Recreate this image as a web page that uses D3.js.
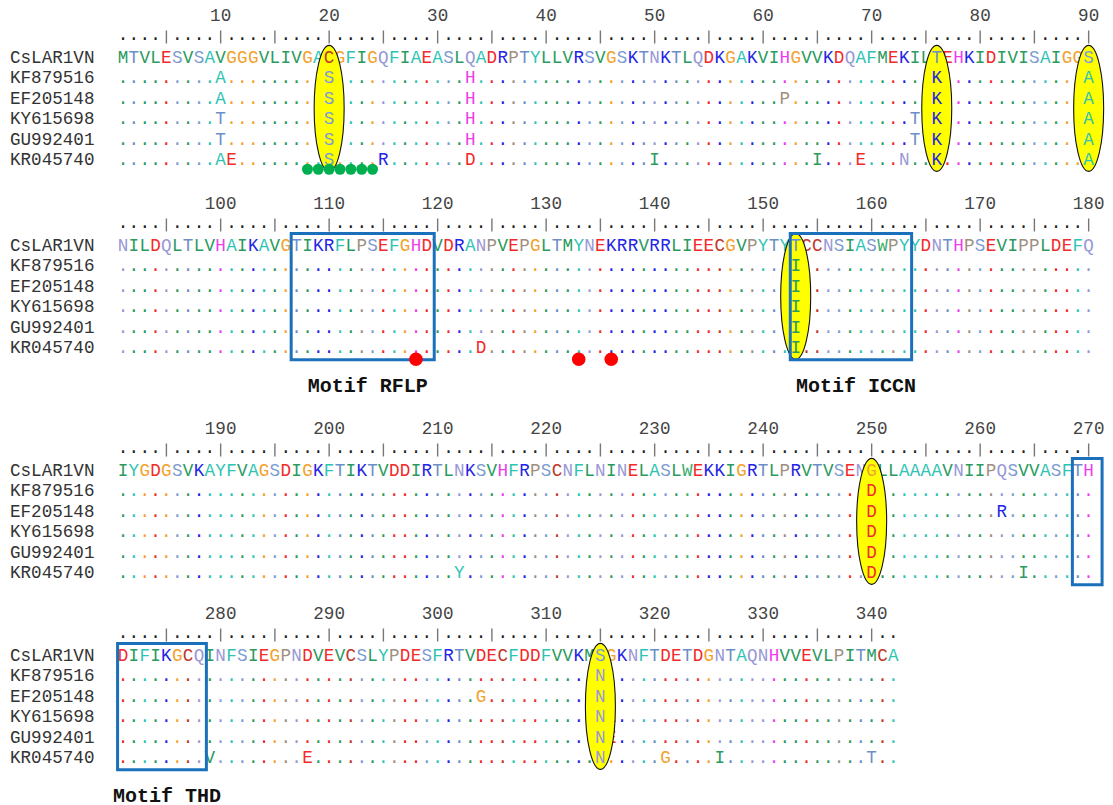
<!DOCTYPE html>
<html>
<head>
<meta charset="utf-8">
<script src="https://cdn.jsdelivr.net/npm/d3@7"></script>
<style>
  body { margin: 0; background: #fff; }
  svg { display: block; }
  text { font-family: "Liberation Mono", "Courier New", monospace; }
</style>
</head>
<body>
<svg id="chart" width="1113" height="805"></svg>
<script>
// ---------------- DATA ----------------
const seqNames = ["CsLAR1VN", "KF879516", "EF205148", "KY615698", "GU992401", "KR045740"];

// reference sequence (CsLAR1VN), one string per 90-residue block
const refBlocks = [
  "MTVLESVSAVGGGVLIVGACGFIGQFIAEASLQADRPTYLLVRSVGSKTNKTLQDKGAKVIHGVVKDQAFMEKILTEHKIDIVISAIGGS",
  "NILDQLTLVHAIKAVGTIKRFLPSEFGHDVDRANPVEPGLTMYNEKRRVRRLIEECGVPYTYTCCNSIASWPYYDNTHPSEVIPPLDEFQ",
  "IYGDGSVKAYFVAGSDIGKFTIKTVDDIRTLNKSVHFRPSCNFLNINELASLWEKKIGRTLPRVTVSENGLLAAAAVNIIPQSVVASFTH",
  "DIFIKGCQINFSIEGPNDVEVCSLYPDESFRTVDECFDDFVVKMSGKNFTDETDGNTAQNHVVEVLPITMCA"
];

// substitutions relative to CsLAR1VN: [position, residue]
const varKF879516 = [[10,"A"],[20,"S"],[33,"H"],[76,"K"],[90,"A"],[153,"I"],[250,"D"],[315,"N"]];
const varEF205148 = [[10,"A"],[20,"S"],[33,"H"],[62,"P"],[76,"K"],[90,"A"],[153,"I"],[250,"D"],[262,"R"],[304,"G"],[315,"N"]];
const varKY615698 = [[10,"T"],[20,"S"],[33,"H"],[74,"T"],[76,"K"],[90,"A"],[153,"I"],[250,"D"],[315,"N"],[316,"E"]];
const varGU992401 = [[10,"T"],[20,"S"],[33,"H"],[74,"T"],[76,"K"],[90,"A"],[153,"I"],[250,"D"],[315,"N"],[316,"E"]];
const varKR045740 = [[10,"A"],[11,"E"],[20,"S"],[25,"R"],[33,"D"],[50,"I"],[65,"I"],[69,"E"],[73,"N"],[76,"K"],[90,"A"],
                     [124,"D"],[153,"I"],[212,"Y"],[250,"D"],[264,"I"],[279,"V"],[288,"E"],[315,"N"],[321,"G"],[326,"I"],[340,"T"]];

// highlighted (ellipse) columns
const highlightPositions = [20, 76, 90, 153, 250, 315];

// motif boxes
const motifNames  = ["Motif RFLP", "Motif ICCN", "Motif THD"];
const motifStarts = [107, 153, 269];
const motifEnds   = [119, 163, 278];

// circle markers under KR045740
const greenMarkPositions = [18, 19, 20, 21, 22, 23, 24];
const redMarkPositions   = [118, 133, 136];

// residue colours
const aaColor = {
  A: "#2ec4b4", F: "#2ec4b4", Y: "#2ec4b4",
  W: "#3cae6e",
  I: "#2a9a5e", L: "#2a9a5e", M: "#2a9a5e", V: "#2a9a5e",
  C: "#c0392b",
  D: "#f22a2a", E: "#f22a2a",
  G: "#f2a22e",
  H: "#ee3cee",
  K: "#2424e6", R: "#2424e6",
  N: "#9898d6", Q: "#9898d6",
  P: "#a08f80",
  S: "#7c9cd2", T: "#6d8ec6"
};

// ---------------- LAYOUT ----------------
const W = 1113, H = 805;
const blockLen = 90;
const colW = 10.85;
const blockTop = [57, 245, 470, 655];   // centre of the first sequence row per block
const rowStep = 20.55;

const seq = refBlocks.join("");
const seqLen = seq.length;

const xCol = d3.scaleLinear().domain([1, blockLen]).range([123, 123 + (blockLen - 1) * colW]);
const yStep = d3.scaleLinear().domain([0, 1]).range([0, rowStep]);
const yRow = (b, r) => blockTop[b] + yStep(r);

const svg = d3.select("#chart");
svg.append("rect").attr("width", W).attr("height", H).attr("fill", "#fff");

const variantLists = [[], varKF879516, varEF205148, varKY615698, varGU992401, varKR045740];
const varMaps = variantLists.map(l => new Map(l));
const hlSet = new Set(highlightPositions);
const posToBC = p => ({ b: Math.floor((p - 1) / blockLen), c: (p - 1) % blockLen + 1 });

const nBlocks = Math.ceil(seqLen / blockLen);
const blocks = d3.range(nBlocks);

// names
const nameData = [];
blocks.forEach(b => seqNames.forEach((n, r) => nameData.push({ b, r, n })));
svg.append("g").selectAll("text").data(nameData).join("text")
  .attr("x", 10).attr("y", d => yRow(d.b, d.r) + 5.5)
  .attr("font-size", 17.6).attr("fill", "#333")
  .text(d => d.n);

// ruler
const rulerData = [];
for (let p = 1; p <= seqLen; p++) rulerData.push(Object.assign({ p }, posToBC(p)));
const rulerG = svg.append("g");
rulerG.selectAll("text.dot").data(rulerData.filter(d => d.p % 5 !== 0)).join("text")
  .attr("class", "dot")
  .attr("x", d => xCol(d.c)).attr("y", d => yRow(d.b, 0) - 17.5)
  .attr("text-anchor", "middle").attr("font-size", 17.6).attr("fill", "#222")
  .text(".");
rulerG.selectAll("line").data(rulerData.filter(d => d.p % 5 === 0)).join("line")
  .attr("x1", d => xCol(d.c)).attr("x2", d => xCol(d.c))
  .attr("y1", d => yRow(d.b, 0) - 26.5).attr("y2", d => yRow(d.b, 0) - 13.5)
  .attr("stroke", "#777").attr("stroke-width", 1.4);
rulerG.selectAll("text.num").data(rulerData.filter(d => d.p % 10 === 0)).join("text")
  .attr("class", "num")
  .attr("x", d => xCol(d.c)).attr("y", d => yRow(d.b, 0) - 36)
  .attr("text-anchor", "middle").attr("font-size", 17.6).attr("fill", "#444")
  .text(d => d.p);

// residue cells
const cells = [];
for (let p = 1; p <= seqLen; p++) {
  const { b, c } = posToBC(p);
  const ref = seq[p - 1];
  seqNames.forEach((n, r) => {
    let ch, color;
    if (r === 0) { ch = ref; color = aaColor[ref]; }
    else if (varMaps[r].has(p)) { ch = varMaps[r].get(p); color = aaColor[ch]; }
    else { ch = "."; color = aaColor[ref]; }
    cells.push({ p, b, c, r, ch, color });
  });
}
function drawCells(g, data) {
  g.selectAll("text").data(data).join("text")
    .attr("x", d => xCol(d.c)).attr("y", d => yRow(d.b, d.r) + 5.5)
    .attr("text-anchor", "middle").attr("font-size", 17.6)
    .attr("fill", d => d.color)
    .text(d => d.ch);
}
drawCells(svg.append("g"), cells);

// ellipses
const ellData = highlightPositions.map(p => Object.assign({ p }, posToBC(p)));
svg.append("g").selectAll("ellipse").data(ellData).join("ellipse")
  .attr("cx", d => xCol(d.c))
  .attr("cy", d => (yRow(d.b, 0) + yRow(d.b, seqNames.length - 1)) / 2)
  .attr("rx", 15).attr("ry", 63)
  .attr("fill", "#ffff00").attr("stroke", "#111").attr("stroke-width", 1.1);
drawCells(svg.append("g"), cells.filter(d => hlSet.has(d.p)));

// motif boxes
const boxSegs = [];
const labelData = [];
motifNames.forEach((name, i) => {
  const s = motifStarts[i], e = motifEnds[i];
  const bs = posToBC(s).b, be = posToBC(e).b;
  for (let b = bs; b <= be; b++) {
    const c0 = b === bs ? posToBC(s).c : 1;
    const c1 = b === be ? posToBC(e).c : blockLen;
    const seg = {
      b,
      x0: xCol(c0) - colW / 2,
      x1: xCol(c1) + colW / 2 + (b === be ? 2 : 8),
      y0: yRow(b, 0) - 11.5,
      y1: yRow(b, seqNames.length - 1) + 12
    };
    boxSegs.push(seg);
    if (b === be) labelData.push({ name, x: (seg.x0 + seg.x1) / 2 + 5, y: yRow(b, seqNames.length - 1) + 44 });
  }
});
svg.append("g").selectAll("rect").data(boxSegs).join("rect")
  .attr("x", d => d.x0).attr("y", d => d.y0)
  .attr("width", d => d.x1 - d.x0).attr("height", d => d.y1 - d.y0)
  .attr("fill", "none").attr("stroke", "#1b70bb").attr("stroke-width", 3);
svg.append("g").selectAll("text").data(labelData).join("text")
  .attr("x", d => d.x).attr("y", d => d.y)
  .attr("text-anchor", "middle").attr("font-size", 20).attr("font-weight", "bold").attr("fill", "#111")
  .text(d => d.name);

// markers
const last = seqNames.length - 1;
svg.append("g").selectAll("circle").data(greenMarkPositions.map(p => posToBC(p))).join("circle")
  .attr("cx", d => xCol(d.c)).attr("cy", d => yRow(d.b, last) + 9.5)
  .attr("r", 5.5).attr("fill", "#00b050");
svg.append("g").selectAll("circle").data(redMarkPositions.map(p => posToBC(p))).join("circle")
  .attr("cx", d => xCol(d.c)).attr("cy", d => yRow(d.b, last) + 11.5)
  .attr("r", 6.8).attr("fill", "#ff0000");
</script>
</body>
</html>
